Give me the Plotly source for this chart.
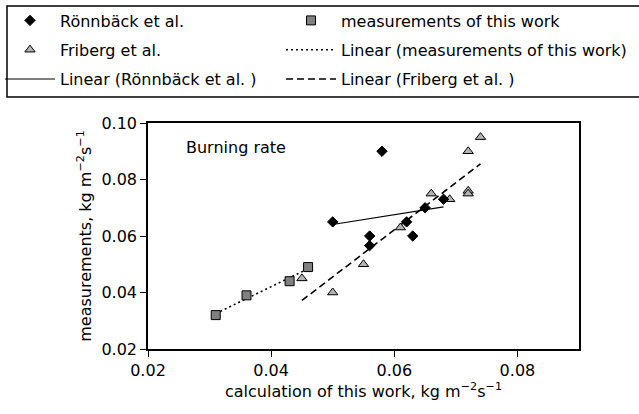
import numpy as np
import plotly.graph_objects as go

# ---- data ----
ronnback_x = [0.058, 0.050, 0.065, 0.068, 0.062, 0.063, 0.056, 0.056]
ronnback_y = [0.090, 0.065, 0.070, 0.073, 0.065, 0.060, 0.060, 0.0566]

friberg_x = [0.074, 0.072, 0.072, 0.072, 0.066, 0.069, 0.061, 0.055, 0.050, 0.045]
friberg_y = [0.095, 0.090, 0.076, 0.075, 0.075, 0.073, 0.063, 0.050, 0.040, 0.045]

meas_x = [0.031, 0.036, 0.043, 0.046]
meas_y = [0.032, 0.039, 0.044, 0.049]

x_ticks = [0.02, 0.04, 0.06, 0.08]
y_ticks = [0.02, 0.04, 0.06, 0.08, 0.10]


def linfit(xs, ys):
    xs = np.asarray(xs, dtype=float)
    ys = np.asarray(ys, dtype=float)
    k, b = np.polyfit(xs, ys, 1)
    xx = np.array([xs.min(), xs.max()])
    return xx, k * xx + b


FONT = "DejaVu Sans, Liberation Sans, Arial, sans-serif"

fig = go.Figure()

fr_lx, fr_ly = linfit(friberg_x, friberg_y)
ro_lx, ro_ly = linfit(ronnback_x, ronnback_y)
me_lx, me_ly = linfit(meas_x, meas_y)

# lines first (drawn beneath markers)
fig.add_trace(go.Scatter(x=fr_lx, y=fr_ly, mode="lines", name="Linear (Friberg et al. )",
                         line=dict(color="black", width=1.6, dash="7px,4px"),
                         legend="legend2", legendrank=3, legendgroup="f"))
fig.add_trace(go.Scatter(x=ro_lx, y=ro_ly, mode="lines", name="Linear (Rönnbäck et al. )",
                         line=dict(color="black", width=1.2),
                         legend="legend", legendrank=3, legendgroup="r"))
fig.add_trace(go.Scatter(x=me_lx, y=me_ly, mode="lines", name="Linear (measurements of this work)",
                         line=dict(color="black", width=1.6, dash="2px,3px"),
                         legend="legend2", legendrank=2, legendgroup="ml"))

fig.add_trace(go.Scatter(x=meas_x, y=meas_y, mode="markers", name="measurements of this work",
                         marker=dict(symbol="square", size=9, color="#808080",
                                     line=dict(color="black", width=1)),
                         legend="legend2", legendrank=1, legendgroup="m"))
fig.add_trace(go.Scatter(x=friberg_x, y=friberg_y, mode="markers", name="Friberg et al.",
                         marker=dict(symbol="triangle-up", size=9, color="#b4b4b4",
                                     line=dict(color="black", width=1)),
                         legend="legend", legendrank=2, legendgroup="fr"))
fig.add_trace(go.Scatter(x=ronnback_x, y=ronnback_y, mode="markers", name="Rönnbäck et al.",
                         marker=dict(symbol="diamond", size=8, color="black",
                                     line=dict(color="black", width=1)),
                         legend="legend", legendrank=1, legendgroup="ro"))

L, R, T, B = 148, 60, 123, 65
W, H = 639, 414
pw = W - L - R
ph = H - T - B


def px_x(px):
    return (px - L) / pw


def px_y(py):
    return (H - B - py) / ph


legend_common = dict(font=dict(family=FONT, size=16, color="black"),
                     bgcolor="rgba(0,0,0,0)", borderwidth=0,
                     traceorder="grouped", tracegroupgap=5.5, itemwidth=50,
                     xanchor="left", yanchor="top", orientation="v")

fig.update_layout(
    width=W, height=H,
    margin=dict(l=L, r=R, t=T, b=B, autoexpand=False),
    paper_bgcolor="white", plot_bgcolor="white",
    font=dict(family=FONT, size=16, color="black"),
    showlegend=True,
    legend=dict(x=px_x(0), y=px_y(3.5), **legend_common),
    legend2=dict(x=px_x(281), y=px_y(3.5), **legend_common),
    xaxis=dict(range=[0.02, 0.09], tickvals=x_ticks, tickformat=".2f",
               showline=True, linecolor="black", linewidth=1.5, mirror=True,
               ticks="outside", ticklen=6, tickcolor="black", tickwidth=1.2,
               showgrid=False, zeroline=False,
               title=dict(text="calculation of this work, kg m<sup>\u22122</sup>s<sup>\u22121</sup>",
                          font=dict(size=16), standoff=6),
               tickfont=dict(size=16)),
    yaxis=dict(range=[0.02, 0.10], tickvals=y_ticks, tickformat=".2f",
               showline=True, linecolor="black", linewidth=1.5, mirror=True,
               ticks="outside", ticklen=6, tickcolor="black", tickwidth=1.2,
               showgrid=False, zeroline=False,
               title=dict(text="measurements, kg m<sup>\u22122</sup>s<sup>\u22121</sup>",
                          font=dict(size=16), standoff=6),
               tickfont=dict(size=16)),
    annotations=[dict(text="Burning rate", x=0.0259, y=0.0912, xref="x", yref="y",
                      xanchor="left", yanchor="middle", showarrow=False,
                      font=dict(family=FONT, size=16, color="black"))],
    shapes=[dict(type="rect", xref="paper", yref="paper",
                 x0=px_x(7), x1=px_x(660), y0=px_y(97), y1=px_y(6),
                 line=dict(color="black", width=1.5), fillcolor="rgba(0,0,0,0)",
                 layer="above")],
)

fig.write_html("out.html")
